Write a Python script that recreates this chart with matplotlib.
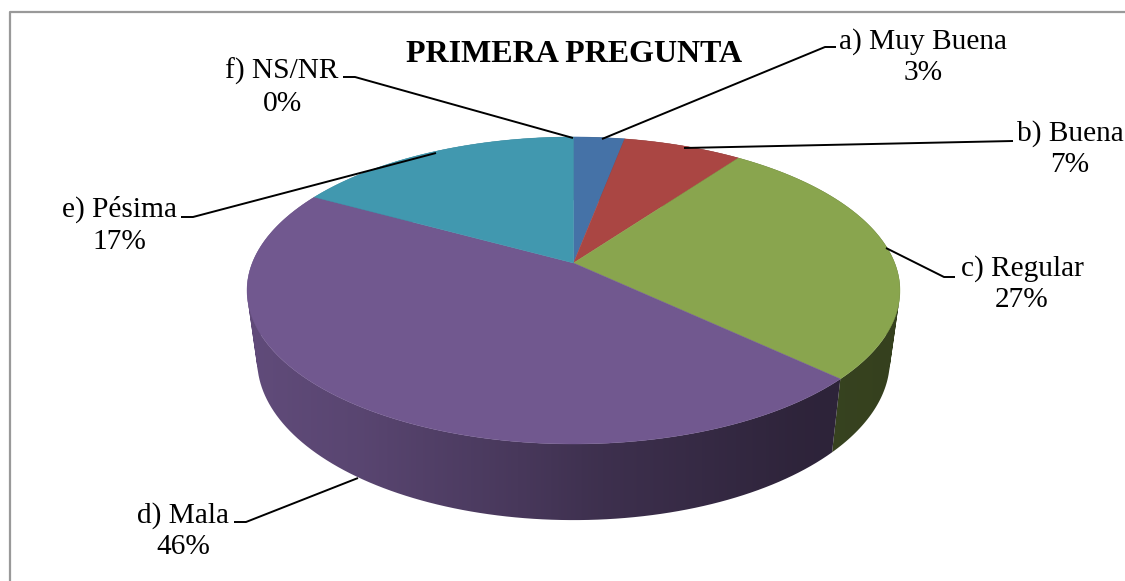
import numpy as np
import matplotlib
matplotlib.use('Agg')
import matplotlib.pyplot as plt
from matplotlib.path import Path
from matplotlib.patches import PathPatch
from matplotlib.colors import to_rgb

plt.rcParams['font.family'] = ['Liberation Serif', 'DejaVu Serif']

TITLE = 'PRIMERA PREGUNTA'
categories = ['a) Muy Buena', 'b) Buena', 'c) Regular', 'd) Mala', 'e) Pésima', 'f) NS/NR']
values = [3, 7, 27, 46, 17, 0]
colors = ['#4572a7', '#aa4643', '#89a54e', '#71588f', '#4198af', '#db843d']

# label centres in pixels
label_pos = [(923, 57), (1070, 149), (1022, 284), (183, 531), (119, 225), (282, 87)]

# leader lines in pixels
leaders = [
    [(602, 139), (825, 47), (836, 47)],
    [(684, 148), (1013, 141)],
    [(886, 248), (944, 277), (955, 277)],
    [(358, 478), (246, 522), (234, 522)],
    [(436, 153), (193, 217), (181, 217)],
    [(573, 138), (355, 77), (343, 77)],
]

# pie is a flat disc seen in perspective
CX = 573.5
CY_TOP = 263
CY_BOTTOM = 331.5
XSCALE_BOTTOM = 0.969
YSCALE_BOTTOM = 1.042
A = 321.2
B = 148.6
K = 0.179


def project(theta, cy, xscale=1.0, yscale=1.0):
    # theta is clockwise from the top of the pie, in radians
    u = np.sin(theta)
    v = -np.cos(theta)
    w = 1 - K * v
    return CX + xscale * A * u / w, cy + yscale * B * v / w


def side_path(t):
    # one path of small quads so the outline follows the tangent between the rims
    xt, yt = project(t, CY_TOP)
    xb, yb = project(t, CY_BOTTOM, XSCALE_BOTTOM, YSCALE_BOTTOM)
    parts = []
    for j in range(len(t) - 1):
        q = np.array([(xt[j], yt[j]), (xt[j + 1], yt[j + 1]), (xb[j + 1], yb[j + 1]), (xb[j], yb[j])])
        area = np.sum(q[:, 0] * np.roll(q[:, 1], -1) - np.roll(q[:, 0], -1) * q[:, 1])
        if area < 0:
            q = q[::-1]
        parts.append(Path(np.r_[q, q[:1]], closed=True))
    return Path.make_compound_path(*parts)


fig = plt.figure(figsize=(11.25, 5.81), dpi=100)
ax = fig.add_axes([0, 0, 1, 1])
ax.axis('off')

ax.plot([10, 10, 1125], [581, 12, 12], color='#999999', lw=1.6, zorder=1)

edges = np.cumsum([0] + values) / sum(values) * 2 * np.pi

# side of the pie, gets darker from left to right
px = np.arange(1125)
side_shade = np.interp(px, [257, 357, 535, 596, 800, 890], [0.85, 0.79, 0.62, 0.55, 0.41, 0.39])
for i, color in enumerate(colors):
    if values[i] == 0:
        continue
    t = np.linspace(edges[i], edges[i + 1], 120)
    side = PathPatch(side_path(t), transform=ax.transData, facecolor='none', edgecolor='none')
    ax.add_patch(side)
    img = np.outer(side_shade, to_rgb(color)).reshape(1, 1125, 3)
    im = ax.imshow(img, extent=(0, 1125, 581, 0), aspect='auto', zorder=2, interpolation='bilinear')
    im.set_clip_path(side)

ax.set_xlim(0, 1125)
ax.set_ylim(581, 0)

# top of the pie
for i, color in enumerate(colors):
    if values[i] == 0:
        continue
    t = np.linspace(edges[i], edges[i + 1], 200)
    x, y = project(t, CY_TOP)
    ax.fill(np.r_[CX, x], np.r_[CY_TOP, y], facecolor=color, edgecolor=color, lw=0.3, zorder=3)

for line in leaders:
    xs, ys = zip(*line)
    ax.plot(xs, ys, color='black', lw=1.4, zorder=4, solid_capstyle='butt')

for name, val, (x, y) in zip(categories, values, label_pos):
    ax.text(x, y, '{}\n{}%'.format(name, val), ha='center', va='center', multialignment='center',
            fontsize=21.2, linespacing=1.29, color='black', zorder=5)

ax.text(574, 54, TITLE, ha='center', va='center', fontsize=23, fontweight='bold', color='black', zorder=5)

fig.savefig('out.png', dpi=100)
